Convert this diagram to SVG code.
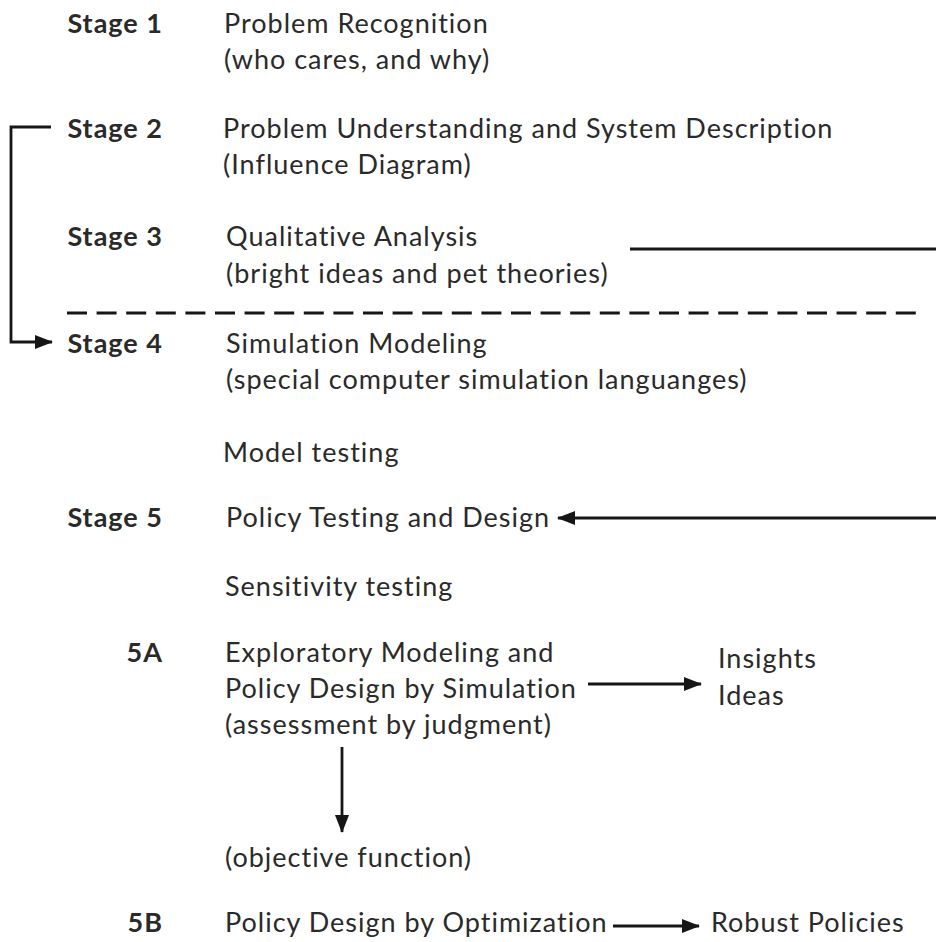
<svg xmlns="http://www.w3.org/2000/svg" width="936" height="942" viewBox="0 0 936 942">
  <style>
    text { font-family: Lato, "Open Sans", "Liberation Sans", sans-serif; font-size: 27px; letter-spacing: 1px; fill: #2a2a2a; }
    .stage { font-weight: bold; text-anchor: end; }
    .conn { fill: none; stroke: #161616; stroke-width: 2.8; }
  </style>
  <defs>
    <marker id="head" markerUnits="userSpaceOnUse" markerWidth="18" markerHeight="14" refX="17" refY="7" orient="auto">
      <path d="M0,0 L18,7 L0,14 z" fill="#161616"/>
    </marker>
  </defs>

  <g id="stage1">
    <text class="stage" x="163" y="33">Stage 1</text>
    <text x="224" y="33">Problem Recognition</text>
    <text x="224" y="69">(who cares, and why)</text>
  </g>
  <g id="stage2">
    <text class="stage" x="163" y="138">Stage 2</text>
    <text x="223" y="138">Problem Understanding and System Description</text>
    <text x="223" y="174">(Influence Diagram)</text>
  </g>
  <g id="stage3">
    <text class="stage" x="163" y="246">Stage 3</text>
    <text x="226" y="246">Qualitative Analysis</text>
    <text x="226" y="283">(bright ideas and pet theories)</text>
  </g>
  <g id="stage4">
    <text class="stage" x="163" y="353">Stage 4</text>
    <text x="226" y="353">Simulation Modeling</text>
    <text x="226" y="389">(special computer simulation languanges)</text>
  </g>
  <g id="model-testing">
    <text x="223" y="462">Model testing</text>
  </g>
  <g id="stage5">
    <text class="stage" x="163" y="527">Stage 5</text>
    <text x="226" y="527">Policy Testing and Design</text>
  </g>
  <g id="sensitivity-testing">
    <text x="225" y="596">Sensitivity testing</text>
  </g>
  <g id="stage5a">
    <text class="stage" x="163" y="662">5A</text>
    <text x="225" y="662">Exploratory Modeling and</text>
    <text x="225" y="698">Policy Design by Simulation</text>
    <text x="225" y="734">(assessment by judgment)</text>
  </g>
  <g id="insights">
    <text x="718" y="668">Insights</text>
    <text x="718" y="705">Ideas</text>
  </g>
  <g id="objective-function">
    <text x="225" y="867">(objective function)</text>
  </g>
  <g id="stage5b">
    <text class="stage" x="163" y="932">5B</text>
    <text x="225" y="932">Policy Design by Optimization</text>
    <text x="711" y="932">Robust Policies</text>
  </g>

  <g id="connectors">
    <!-- loop back from stage 2 to stage 4 -->
    <path class="conn" d="M51,127 H11 V342 H52" stroke-width="4" marker-end="url(#head)"/>
    <!-- boundary between qualitative and quantitative stages -->
    <line x1="67" y1="313" x2="920" y2="313" stroke="#161616" stroke-width="3" stroke-dasharray="20 9.6"/>
    <!-- shortcut from qualitative analysis to policy testing -->
    <line class="conn" x1="630" y1="249" x2="936" y2="249" stroke-width="3.5"/>
    <line class="conn" x1="936" y1="518" x2="558" y2="518" marker-end="url(#head)"/>
    <!-- exploratory modeling outputs -->
    <line class="conn" x1="588" y1="684" x2="701" y2="684" marker-end="url(#head)"/>
    <line class="conn" x1="342" y1="747" x2="342" y2="832" marker-end="url(#head)"/>
    <line class="conn" x1="613" y1="926" x2="699" y2="926" marker-end="url(#head)"/>
  </g>
</svg>
